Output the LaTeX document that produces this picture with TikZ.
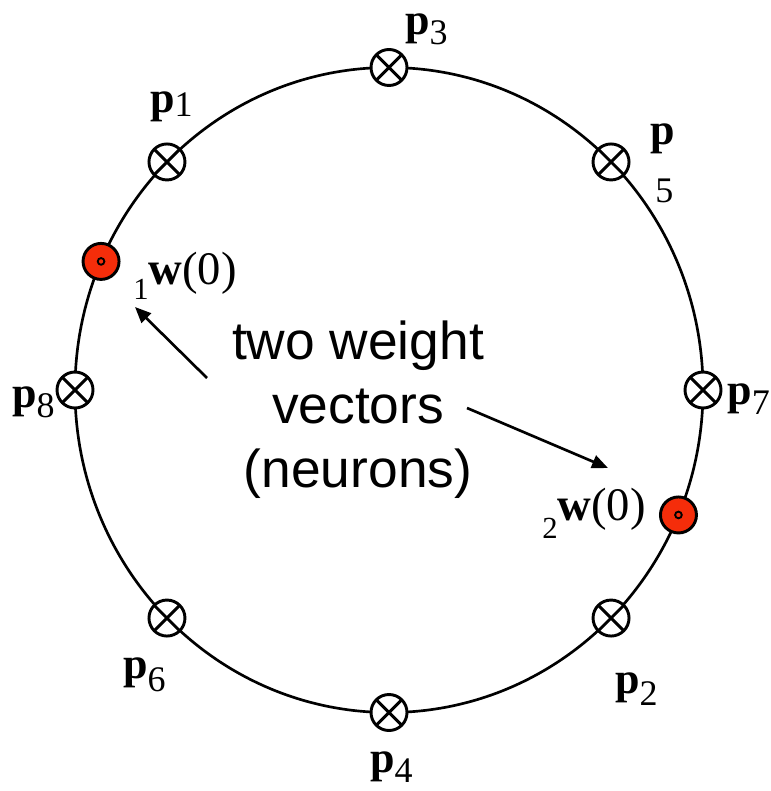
\documentclass[tikz,border=0pt]{standalone}
\usepackage{fontspec}
\setmainfont{Liberation Serif}
\newfontfamily\labsans{Liberation Sans}
\usetikzlibrary{arrows.meta}
\definecolor{wred}{RGB}{245,45,10}
\newcommand{\bigp}{{\fontsize{33pt}{36pt}\selectfont\bfseries p}}
\newcommand{\subd}[2]{\raisebox{-#2}{\fontsize{27pt}{30pt}\selectfont #1}}
\newcommand{\wsub}[2]{\raisebox{-#2}{\fontsize{23pt}{26pt}\selectfont #1}}
\newcommand{\wlab}{{\fontsize{35pt}{38pt}\selectfont\textbf{w}(0)}}
\begin{document}
\begin{tikzpicture}[x=0.75pt,y=-0.75pt,
  xsym/.style={circle, draw, line width=2.2pt, minimum size=27pt, inner sep=0pt, fill=white,
    path picture={\draw[line width=2.2pt]
      (path picture bounding box.north west) -- (path picture bounding box.south east)
      (path picture bounding box.north east) -- (path picture bounding box.south west);}},
  wsym/.style={circle, draw, line width=2.2pt, minimum size=27pt, inner sep=0pt, fill=wred},
  dotsym/.style={circle, draw, line width=1.4pt, minimum size=5pt, inner sep=0pt, fill=wred},
  lab/.style={anchor=base west, inner sep=0pt},
  arr/.style={line width=2pt, -{Triangle[length=12pt,width=10pt]}}
]
\useasboundingbox (0,0) rectangle (770,791);
\begin{scope}[shift={(389,390)}]
  \draw[line width=2pt] (0,0) ellipse [x radius=314, y radius=322.5];
  % angles measured downward (y axis points down)
  \node[xsym] (p1) at (-135:314 and 322.5) {};
  \node[xsym] (p3) at (-90:314 and 322.5) {};
  \node[xsym] (p5) at (-45:314 and 322.5) {};
  \node[xsym] (p7) at (0:314 and 322.5) {};
  \node[xsym] (p2) at (45:314 and 322.5) {};
  \node[xsym] (p4) at (90:314 and 322.5) {};
  \node[xsym] (p6) at (135:314 and 322.5) {};
  \node[xsym] (p8) at (180:314 and 322.5) {};
  \node[wsym] (w1) at (-156.5:314 and 322.5) {};
  \node[dotsym] (w1c) at (w1) {};
  \node[wsym] (w2) at (22.8:314 and 322.5) {};
  \node[dotsym] (w2c) at (w2) {};
\end{scope}
% point labels
\node[lab] (l3) at (405,35) {\bigp\subd{3}{7.5pt}};
\node[lab] (l1) at (150,113) {\bigp\subd{1}{3pt}};
\node[lab] (l5a) at (650,145) {\bigp};
\node[lab] (l5b) at (655,203) {\fontsize{27pt}{30pt}\selectfont 5};
\node[lab] (l8) at (12,407) {\bigp\subd{8}{8pt}};
\node[lab] (l7) at (727,404) {\bigp\subd{7}{8pt}};
\node[lab] (l6) at (123,678) {\bigp\subd{6}{10pt}};
\node[lab] (l2) at (615,693) {\bigp\subd{2}{9pt}};
\node[lab] (l4) at (370,772) {\bigp\subd{4}{8pt}};
% weight labels
\node[lab] (lw1) at (133,285) {\wsub{1}{11pt}\wlab};
\node[lab] (lw2) at (542,520) {\wsub{2}{13.5pt}\wlab};
% text
\node[align=center, inner sep=0pt, font={\labsans\fontsize{40pt}{48pt}\selectfont}] (txt) at (358,410)
  {two weight\\vectors\\(neurons)};
% arrows
\coordinate (a1s) at (207,378);
\coordinate (a1e) at (135,307);
\coordinate (a2s) at (467,408);
\coordinate (a2e) at (608,468);
\draw[arr] (a1s) -- (a1e);
\draw[arr] (a2s) -- (a2e);
\end{tikzpicture}
\end{document}
